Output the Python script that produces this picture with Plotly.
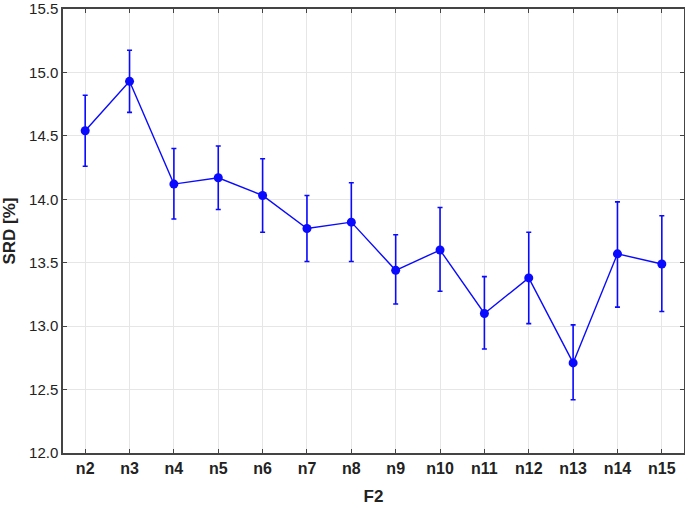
import plotly.graph_objects as go

# ── Data ───────────────────────────────────────────────────────────────────────
CATEGORIES = ['n2', 'n3', 'n4', 'n5', 'n6', 'n7', 'n8', 'n9', 'n10',
              'n11', 'n12', 'n13', 'n14', 'n15']
SRD_MEAN   = [14.54, 14.93, 14.12, 14.17, 14.03, 13.77, 13.82, 13.44, 13.60,
              13.10, 13.38, 12.71, 13.57, 13.49]
ERR_UPPER  = [0.28, 0.245, 0.28, 0.25, 0.29, 0.26, 0.31, 0.28, 0.335,
              0.29, 0.36, 0.30, 0.41, 0.38]
ERR_LOWER  = [0.28, 0.245, 0.275, 0.25, 0.29, 0.26, 0.31, 0.265, 0.325,
              0.28, 0.36, 0.29, 0.42, 0.375]

# ── Style ──────────────────────────────────────────────────────────────────────
BLUE   = '#0a0aff'
FRAME  = '#444444'
GRID   = '#e6e6e6'
FONT   = 'Liberation Sans, Arial, sans-serif'

fig = go.Figure(go.Scatter(
    x=CATEGORIES, y=SRD_MEAN,
    mode='lines+markers',
    line=dict(color=BLUE, width=1.4),
    marker=dict(color=BLUE, size=9),
    error_y=dict(type='data', symmetric=False,
                 array=ERR_UPPER, arrayminus=ERR_LOWER,
                 color=BLUE, thickness=1.6, width=2.5),
    showlegend=False,
))

axis_common = dict(
    showline=True, linecolor=FRAME, linewidth=1.5, mirror='ticks',
    ticks='inside', ticklen=4, tickcolor=FRAME,
    showgrid=True, gridcolor=GRID, gridwidth=1, zeroline=False,
    automargin=False,
)

fig.update_layout(
    width=685, height=507,
    paper_bgcolor='white', plot_bgcolor='white',
    font=dict(family=FONT, color='#222222', size=15),
    margin=dict(l=63, r=1, t=9, b=54),
    xaxis=dict(
        **axis_common,
        range=[-0.5, 13.5],
        tickfont=dict(size=16, family=FONT, weight='bold'),
        title=dict(text='<b>F2</b>', font=dict(size=17), standoff=14),
    ),
    yaxis=dict(
        **axis_common,
        range=[12.0, 15.5001], dtick=0.5, tick0=12.0, tickformat='.1f',
        tickfont=dict(size=15),
        ticklabeloverflow='allow',
        title=dict(text='<b>SRD [%]</b>', font=dict(size=17), standoff=11),
    ),
)

# page body has a default 8px margin; drop it so the figure fills the window
fig.write_html('out.html',
               config={'displayModeBar': False},
               post_script="document.body.style.margin='0px';"
                           "document.body.style.overflow='hidden';")
